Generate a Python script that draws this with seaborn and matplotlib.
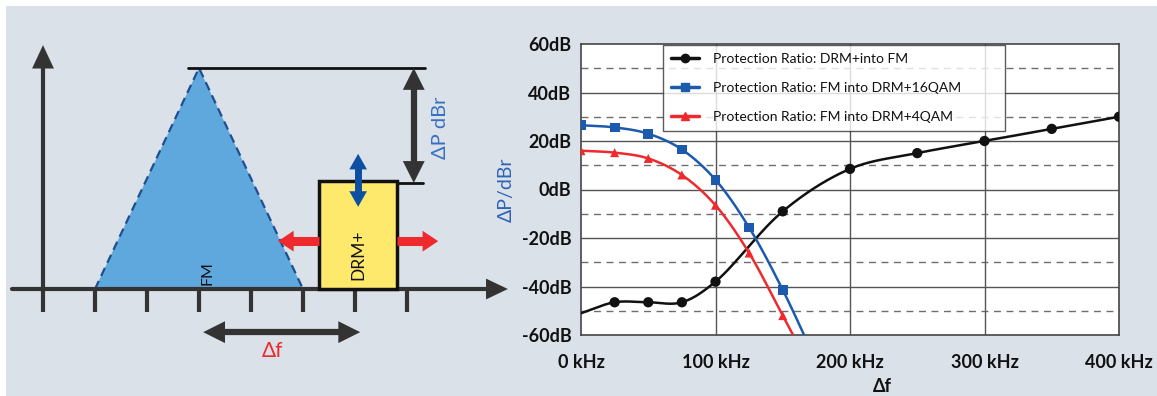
import numpy as np
import pandas as pd
import matplotlib
matplotlib.use("Agg")
import matplotlib.pyplot as plt
from matplotlib.patches import Polygon, Rectangle
from matplotlib.lines import Line2D
import seaborn as sns

# ---------------- data ----------------
drm_into_fm_x = [0, 25, 50, 75, 100, 150, 200, 250, 300, 350, 400]
drm_into_fm_y = [-51, -46.5, -46.5, -46.5, -38, -9, 8.5, 15, 20, 25, 30]
fm_into_16qam_x = [0, 25, 50, 75, 100, 125, 150, 175]
fm_into_16qam_y = [26.5, 25.6, 23, 16.5, 4, -15.7, -41.4, -71]
fm_into_4qam_x = [0, 25, 50, 75, 100, 125, 150, 175]
fm_into_4qam_y = [16, 15.2, 12.8, 6, -6.5, -26.2, -52, -78]

series_names = ["Protection Ratio: DRM+into FM",
                "Protection Ratio: FM into DRM+16QAM",
                "Protection Ratio: FM into DRM+4QAM"]
x_ticks = [0, 100, 200, 300, 400]
x_ticklabels = ["0 kHz", "100 kHz", "200 kHz", "300 kHz", "400 kHz"]
y_ticks = [-60, -40, -20, 0, 20, 40, 60]
y_ticklabels = ["-60dB", "-40dB", "-20dB", "0dB", "20dB", "40dB", "60dB"]

# ---------------- styling ----------------
sns.set_style("white")
plt.rcParams["font.family"] = ["Lato", "DejaVu Sans"]

BG = "#dae1e8"
DARK = "#333333"
BLUE = "#1b5aad"
RED = "#ee2a2e"
BLACK = "#111111"

W, H = 1157, 396
fig = plt.figure(figsize=(W / 100, H / 100), dpi=100, facecolor="white")
fig.patches.append(Rectangle((6 / W, 0), 1, (H - 6) / H, transform=fig.transFigure,
                             facecolor=BG, edgecolor="none", zorder=-10))

# ---------------- left schematic ----------------
unit = 52.0
ox, oy = 43.0, 289.0
axL = fig.add_axes([0, 0, 520 / W, 1])
axL.set_xlim(-ox / unit, (520 - ox) / unit)
axL.set_ylim((oy - H) / unit, oy / unit)
axL.axis("off")


def head(ax, tip, direction, length, half, color, z=5):
    tx, ty = tip
    dx, dy = direction
    bx, by = tx - dx * length, ty - dy * length
    px, py = -dy, dx
    ax.add_patch(Polygon([(tx, ty), (bx + px * half, by + py * half),
                          (bx - px * half, by - py * half)], closed=True,
                         facecolor=color, edgecolor="none", zorder=z))


# axes of the schematic
axL.plot([0, 0], [0, 4.3], color=DARK, lw=3, solid_capstyle="butt", zorder=3)
head(axL, (0, 4.69), (0, 1), 0.45, 0.21, DARK)
axL.plot([-0.6, 8.6], [0, 0], color=DARK, lw=3, solid_capstyle="round", zorder=3)
head(axL, (8.94, 0), (1, 0), 0.42, 0.2, DARK)
for t in range(8):
    axL.plot([t, t], [0, -0.44], color=DARK, lw=3, solid_capstyle="butt", zorder=3)

# FM triangle
axL.add_patch(Polygon([(1, 0), (3, 4.25), (5, 0)], closed=True, facecolor="#5fa8dd",
                      edgecolor="none", zorder=1))
axL.plot([1, 3, 5], [0, 4.25, 0], color="#1f4f8f", lw=1.6, ls=(0, (4, 2.5)), zorder=2)
axL.text(3.17, 0.31, "FM", rotation=90, ha="center", va="center", fontsize=11.5,
         color=BLACK, zorder=4)

# peak reference line and delta-P arrow
axL.plot([2.79, 7.35], [4.25, 4.25], color=BLACK, lw=2, zorder=3)
axL.plot([6.81, 7.31], [2.04, 2.04], color=BLACK, lw=2, zorder=3)
axL.plot([7.13, 7.13], [2.4, 3.9], color=DARK, lw=4.5, solid_capstyle="butt", zorder=3)
head(axL, (7.13, 4.25), (0, 1), 0.42, 0.21, DARK)
head(axL, (7.13, 2.04), (0, -1), 0.42, 0.21, DARK)
axL.text(7.64, 3.1, "ΔP dBr", rotation=90, ha="center", va="center", fontsize=14.5,
         color="#3a6fc2", zorder=4)

# DRM+ box
axL.add_patch(Rectangle((5.31, 0), 1.5, 2.08, facecolor="#ffe96d", edgecolor=BLACK,
                        lw=2.5, zorder=3))
axL.text(6.06, 0.65, "DRM+", rotation=90, ha="center", va="center", fontsize=12.5,
         color=BLACK, zorder=4)
axL.plot([6.06, 6.06], [1.8, 2.38], color="#0d4fa3", lw=5, solid_capstyle="butt", zorder=5)
head(axL, (6.06, 2.6), (0, 1), 0.3, 0.17, "#0d4fa3", z=6)
head(axL, (6.06, 1.58), (0, -1), 0.3, 0.17, "#0d4fa3", z=6)

# red shift arrows
axL.plot([4.75, 5.31], [0.92, 0.92], color=RED, lw=6.5, solid_capstyle="butt", zorder=4)
head(axL, (4.52, 0.92), (-1, 0), 0.3, 0.2, RED)
axL.plot([6.81, 7.35], [0.92, 0.92], color=RED, lw=6.5, solid_capstyle="butt", zorder=4)
head(axL, (7.6, 0.92), (1, 0), 0.3, 0.2, RED)

# delta-f arrow
axL.plot([3.4, 5.8], [-0.83, -0.83], color=DARK, lw=4.5, solid_capstyle="butt", zorder=3)
head(axL, (3.08, -0.83), (-1, 0), 0.42, 0.21, DARK)
head(axL, (6.1, -0.83), (1, 0), 0.42, 0.21, DARK)
axL.text(4.42, -1.19, "Δf", ha="center", va="center", fontsize=15, color=RED, zorder=4)

# ---------------- right chart ----------------
x0p, x1p, y0p, y1p = 581, 1119, 44, 335
ax = fig.add_axes([x0p / W, (H - y1p) / H, (x1p - x0p) / W, (y1p - y0p) / H])
ax.set_facecolor("white")


def smooth(xs, ys, n=40, alpha=0.5):
    # centripetal Catmull-Rom rendering of the polyline (drawing only)
    P = np.column_stack([xs, ys]).astype(float)
    P = np.vstack([2 * P[0] - P[1], P, 2 * P[-1] - P[-2]])
    out = []
    for i in range(1, len(P) - 2):
        p0, p1, p2, p3 = P[i - 1], P[i], P[i + 1], P[i + 2]
        t0 = 0.0
        t1 = t0 + np.linalg.norm(p1 - p0) ** alpha
        t2 = t1 + np.linalg.norm(p2 - p1) ** alpha
        t3 = t2 + np.linalg.norm(p3 - p2) ** alpha
        t = np.linspace(t1, t2, n)[:, None]
        a1 = (t1 - t) / (t1 - t0) * p0 + (t - t0) / (t1 - t0) * p1
        a2 = (t2 - t) / (t2 - t1) * p1 + (t - t1) / (t2 - t1) * p2
        a3 = (t3 - t) / (t3 - t2) * p2 + (t - t2) / (t3 - t2) * p3
        b1 = (t2 - t) / (t2 - t0) * a1 + (t - t0) / (t2 - t0) * a2
        b2 = (t3 - t) / (t3 - t1) * a2 + (t - t1) / (t3 - t1) * a3
        c = (t2 - t) / (t2 - t1) * b1 + (t - t1) / (t2 - t1) * b2
        out.append(c if i == 1 else c[1:])
    S = np.vstack(out)
    return S[:, 0], S[:, 1]


# grid
for yv in range(-50, 60, 20):
    ax.axhline(yv, color="#6e6e6e", lw=1, ls=(0, (5, 4)), zorder=1)
for yv in range(-40, 60, 20):
    ax.axhline(yv, color="#555555", lw=1, zorder=1)
for xv in [100, 200, 300]:
    ax.axvline(xv, color="#555555", lw=1, zorder=1)

series = [
    (drm_into_fm_x, drm_into_fm_y, BLACK, "o", 55, 1),
    (fm_into_16qam_x, fm_into_16qam_y, BLUE, "s", 50, 0),
    (fm_into_4qam_x, fm_into_4qam_y, RED, "^", 42, 0),
]
handles = []
for (xs, ys, col, mk, ms, first), name in zip(series, series_names):
    sx, sy = smooth(xs, ys)
    ax.plot(sx, sy, color=col, lw=1.8, zorder=3)
    df = pd.DataFrame({"f": xs[first:], "v": ys[first:]})
    sns.scatterplot(data=df, x="f", y="v", ax=ax, color=col, marker=mk, s=ms,
                    edgecolor="none", linewidth=0, zorder=4, legend=False)
    handles.append(Line2D([0], [0], color=col, lw=2.5, marker=mk,
                          markersize=6 if mk != "^" else 5.5, label=name))

ax.set_xlim(0, 400)
ax.set_ylim(-60, 60)
ax.set_xticks(x_ticks)
ax.set_xticklabels(x_ticklabels)
ax.set_yticks(y_ticks)
ax.set_yticklabels(y_ticklabels)
ax.tick_params(axis="both", length=0, labelsize=13, colors=BLACK)
ax.tick_params(axis="x", pad=14)
ax.tick_params(axis="y", pad=7)
for lab in ax.get_xticklabels() + ax.get_yticklabels():
    lab.set_fontweight("bold")
for s in ax.spines.values():
    s.set_color("#444444")
    s.set_linewidth(1.2)

ax.set_xlabel("Δf", fontsize=13, color=BLACK, fontweight="bold")
ax.xaxis.set_label_coords((882 - x0p) / (x1p - x0p), -(386 - y1p) / (y1p - y0p))
ax.xaxis.label.set_va("center")
ax.set_ylabel("ΔP/dBr", fontsize=14, color="#2e63b8")
ax.yaxis.set_label_coords(-(x0p - 506) / (x1p - x0p), 0.5)
ax.yaxis.label.set_va("center")

leg = ax.legend(handles=handles, loc="upper left",
                bbox_to_anchor=((663 - x0p) / (x1p - x0p), (y1p - 128) / (y1p - y0p),
                                (1005 - 663) / (x1p - x0p), (128 - 45) / (y1p - y0p)),
                mode="expand", fontsize=10, frameon=True, fancybox=False,
                handlelength=2.0, handletextpad=1.0, labelspacing=1.2,
                borderpad=0.6, borderaxespad=0)
leg.get_frame().set_edgecolor("#333333")
leg.get_frame().set_linewidth(1)
leg.set_zorder(10)
for txt in leg.get_texts():
    txt.set_color(BLACK)

fig.savefig("out.png", dpi=100, facecolor=fig.get_facecolor())
